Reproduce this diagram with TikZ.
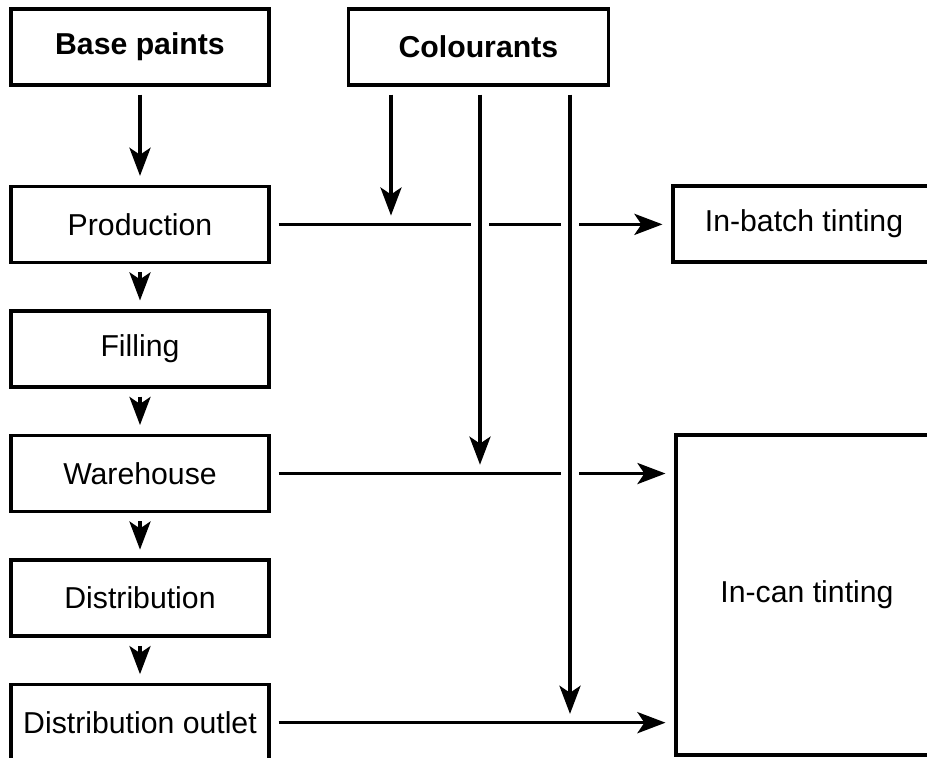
\documentclass[tikz,border=0pt]{standalone}
\usepackage{fontspec}
\setmainfont{Liberation Sans}
\usetikzlibrary{arrows.meta,positioning}
\begin{document}
\begin{tikzpicture}[x=0.25mm,y=-0.25mm,
  font=\fontsize{21.5}{25}\selectfont, node distance=11.3mm,
  b/.style={draw,line width=2.4pt,minimum width=64.5mm,minimum height=19mm,inner sep=0pt},
  a/.style={line width=2.4pt,shorten <=2mm,shorten >=2.2mm,-{Stealth[length=20pt,width=15pt,inset=5pt]}},
  gap/.style={white,line width=4.5mm,shorten <=3mm,shorten >=4mm}]
\useasboundingbox (0,0) rectangle (927,758);
\node[b] (base) at (140,47) {\bfseries Base paints};
\node[b,below=24.5mm of base] (prod) {Production};
\node[b,below=of prod] (fill) {Filling};
\node[b,below=of fill] (ware) {Warehouse};
\node[b,below=of ware] (dist) {Distribution};
\node[b,below=of dist] (outlet) {Distribution outlet};
\node[b,right=19mm of base,minimum width=65mm] (col) {\bfseries Colourants};
\node[b,minimum width=65.5mm] (batch) at (804,224) {In-batch tinting};
\node[b,minimum width=65.5mm,minimum height=80mm] (can) at (807,595) {In-can tinting};
\coordinate (t1) at (391,0); \coordinate (t2) at (480,0); \coordinate (t3) at (570,0);
\draw[a](base)--(prod);\draw[a](prod)--(fill);\draw[a](fill)--(ware);
\draw[a](ware)--(dist);\draw[a](dist)--(outlet);
\draw[a](prod.east)--(prod.east -| batch.west);
\draw[a](ware.east)--(ware.east -| can.west);
\draw[a](outlet.east)--(outlet.east -| can.west);
\draw[gap](col.south -| t2)--(t2 |- ware.east);\draw[gap](col.south -| t3)--(t3 |- outlet.east);
\draw[a](col.south -| t1)--(t1 |- prod.east);
\draw[a](col.south -| t2)--(t2 |- ware.east);
\draw[a](col.south -| t3)--(t3 |- outlet.east);
\end{tikzpicture}
\end{document}
